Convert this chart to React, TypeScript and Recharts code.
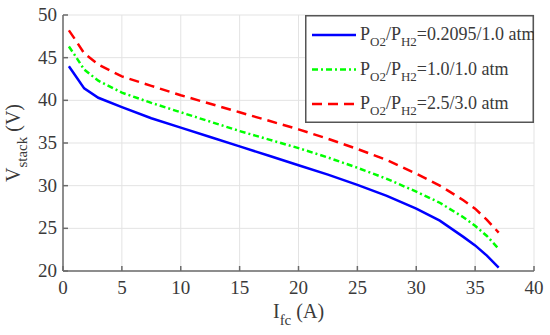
import { LineChart, Line, XAxis, YAxis, CartesianGrid, Label } from 'recharts'

const current = [0.5, 1, 1.8, 3, 5, 7.5, 10, 12.5, 15, 17.5, 20, 22.5, 25, 27.5, 30, 32, 34, 35, 36, 37]
const vAir = [44.0, 43.0, 41.4, 40.3, 39.2, 37.9, 36.8, 35.7, 34.6, 33.5, 32.4, 31.3, 30.1, 28.8, 27.3, 25.9, 24.0, 23.0, 21.8, 20.4]
const vO2 = [46.3, 45.3, 43.6, 42.3, 40.9, 39.7, 38.6, 37.5, 36.4, 35.4, 34.4, 33.3, 32.1, 30.8, 29.3, 28.0, 26.3, 25.3, 24.1, 22.6]
const vHigh = [48.2, 47.2, 45.5, 44.2, 42.8, 41.7, 40.6, 39.6, 38.6, 37.6, 36.6, 35.5, 34.3, 33.0, 31.4, 30.0, 28.3, 27.3, 26.0, 24.5]
const xTicks = [0, 5, 10, 15, 20, 25, 30, 35, 40]
const yTicks = [20, 25, 30, 35, 40, 45, 50]
const legendLabels = ['=0.2095/1.0 atm', '=1.0/1.0 atm', '=2.5/3.0 atm']

const data = current.map((x, i) => ({ x, air: vAir[i], o2: vO2[i], high: vHigh[i] }))

const FONT = 'Liberation Serif'
const TEXT = '#3a3a3a'
const AXIS = '#6b6b6b'

const styles = [
  { key: 'air', color: '#0000ff', dash: undefined },
  { key: 'o2', color: '#00ff00', dash: '6 3 2 3' },
  { key: 'high', color: '#ff0000', dash: '10 6' },
]

const renderXTick = (props: any) => {
  const { x, payload } = props
  return (
    <text key={`xt-${payload.value}`} x={x} y={294} textAnchor="middle" fill={TEXT} fontFamily={FONT} fontSize={19}>
      {payload.value}
    </text>
  )
}

const renderYTick = (props: any) => {
  const { y, payload } = props
  return (
    <text key={`yt-${payload.value}`} x={57} y={y + 6} textAnchor="end" fill={TEXT} fontFamily={FONT} fontSize={19}>
      {payload.value}
    </text>
  )
}

function XTitle(props: any) {
  const { viewBox } = props
  const cx = viewBox.x + viewBox.width / 2
  return (
    <text x={cx} y={viewBox.y + 47} textAnchor="middle" fill={TEXT} fontFamily={FONT} fontSize={20}>
      <tspan>I</tspan>
      <tspan dy={7} fontSize={15}>fc</tspan>
      <tspan dy={-7}> (A)</tspan>
    </text>
  )
}

function YTitle(props: any) {
  const { viewBox } = props
  const cx = 20
  const cy = viewBox.y + viewBox.height / 2
  return (
    <text x={cx} y={cy} transform={`rotate(-90, ${cx}, ${cy})`} textAnchor="middle" fill={TEXT} fontFamily={FONT} fontSize={20}>
      <tspan>V</tspan>
      <tspan dy={7} fontSize={15}>stack</tspan>
      <tspan dy={-7}> (V)</tspan>
    </text>
  )
}

function LegendBox() {
  return (
    <svg width={229} height={108} style={{ position: 'absolute', left: 305, top: 15 }}>
      <rect x={0.75} y={0.75} width={227.5} height={106.5} fill="#ffffff" stroke="#555" strokeWidth={1.5} />
      {styles.map((s, i) => {
        const y = 20 + i * 34.5
        return (
          <g key={s.key}>
            <line x1={7} x2={51} y1={y} y2={y} stroke={s.color} strokeWidth={2.5} strokeDasharray={s.dash} />
            <text x={55} y={y + 5} fill={TEXT} fontFamily={FONT} fontSize={18}>
              <tspan>P</tspan>
              <tspan dy={6} fontSize={13}>O2</tspan>
              <tspan dy={-6}>/P</tspan>
              <tspan dy={6} fontSize={13}>H2</tspan>
              <tspan dy={-6}>{legendLabels[i]}</tspan>
            </text>
          </g>
        )
      })}
    </svg>
  )
}

export default function App() {
  return (
    <div style={{ position: 'absolute', left: 0, top: 0, width: 550, height: 335, background: '#fff', fontFamily: FONT }}>
      <LineChart width={550} height={335} data={data} margin={{ top: 15, right: 16, left: 0, bottom: 0 }}>
        <CartesianGrid stroke="#e3e3e3" strokeWidth={1} horizontalValues={yTicks} verticalValues={xTicks} />
        <XAxis
          dataKey="x"
          type="number"
          domain={[0, 40]}
          ticks={xTicks}
          height={64}
          tick={renderXTick}
          tickSize={-5}
          stroke={AXIS}
          strokeWidth={1.5}
        >
          <Label content={<XTitle />} />
        </XAxis>
        <XAxis
          xAxisId="top"
          dataKey="x"
          type="number"
          orientation="top"
          domain={[0, 40]}
          ticks={xTicks}
          height={0}
          tick={false}
          tickSize={-5}
          stroke={AXIS}
          strokeWidth={1.5}
        />
        <YAxis
          type="number"
          domain={[20, 50]}
          ticks={yTicks}
          width={63}
          tick={renderYTick}
          tickSize={-5}
          stroke={AXIS}
          strokeWidth={1.5}
        >
          <Label content={<YTitle />} />
        </YAxis>
        <YAxis
          yAxisId="right"
          type="number"
          orientation="right"
          domain={[20, 50]}
          ticks={yTicks}
          width={0}
          tick={false}
          tickSize={-5}
          stroke={AXIS}
          strokeWidth={1.5}
        />
        {styles.map((s) => (
          <Line
            key={s.key}
            type="linear"
            dataKey={s.key}
            stroke={s.color}
            strokeWidth={2.5}
            strokeDasharray={s.dash}
            dot={false}
            activeDot={false}
            isAnimationActive={false}
          />
        ))}
      </LineChart>
      <LegendBox />
    </div>
  )
}
